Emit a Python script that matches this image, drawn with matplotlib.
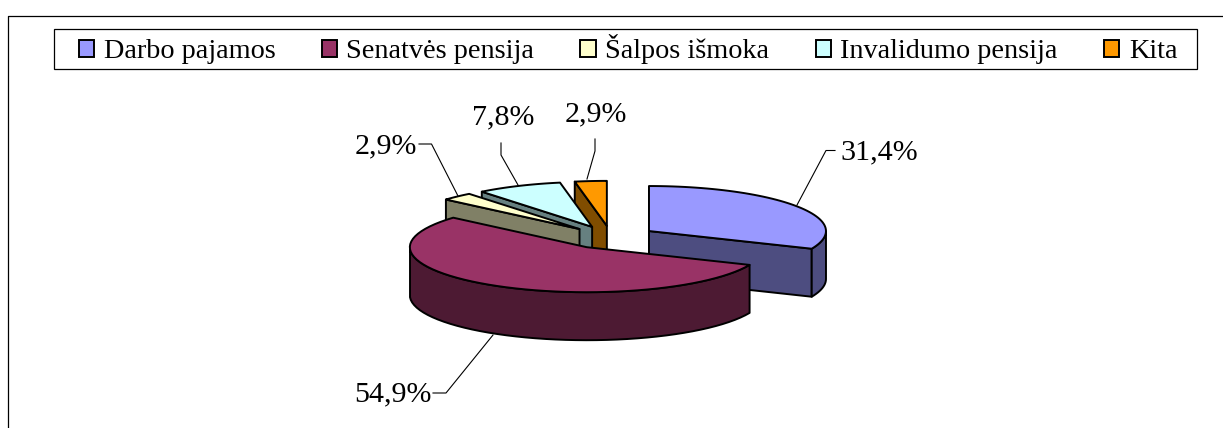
import numpy as np
import matplotlib
matplotlib.use("Agg")
import matplotlib.pyplot as plt
from matplotlib.patches import Patch, Polygon, Rectangle

categories = ["Darbo pajamos", "Senatvės pensija", "Šalpos išmoka", "Invalidumo pensija", "Kita"]
values = [31.4, 54.9, 2.9, 7.8, 2.9]
labels = ["31,4%", "54,9%", "2,9%", "7,8%", "2,9%"]
colors = ["#9999FF", "#993366", "#FFFFCC", "#CCFFFF", "#FF9900"]
shades = ["#4D4D80", "#4D1A33", "#808066", "#668080", "#804D00"]

W, H = 1223, 428
plt.rcParams["font.family"] = ["Liberation Serif", "DejaVu Serif"]
fig = plt.figure(figsize=(W / 100, H / 100), dpi=100)
ax = fig.add_axes([0, 0, 1, 1])
ax.set_xlim(0, W)
ax.set_ylim(H, 0)
ax.axis("off")

# chart frame
ax.plot([8, 8, W], [H, 15.5, 15.5], color="black", lw=0.9, solid_capstyle="butt")

# pie geometry
CX, CY, RX, RY, DEPTH, EXPLODE = 611, 237.4, 177, 45, 48, 45.5
total = sum(values)
edges = np.concatenate([[0], np.cumsum(values)]) / total * 360


def rim(cx, cy, a):
    a = np.radians(a)
    return cx + RX * np.sin(a), cy - RY * np.cos(a)


def centre(a0, a1):
    m = np.radians((a0 + a1) / 2)
    return CX + EXPLODE * np.sin(m), CY - EXPLODE * RY / RX * np.cos(m)


order = [4, 3, 2, 0, 1]
kw = dict(edgecolor="black", lw=1.4, joinstyle="round")
for i in order:
    a0, a1 = edges[i], edges[i + 1]
    cx, cy = centre(a0, a1)
    arc = np.linspace(a0, a1, 60)
    rx, ry = rim(cx, cy, arc)
    # cut face, visible when the slice opens toward the viewer
    for a in ([a1] if i == 0 else [a0] if a0 > 180 else []):
        px, py = rim(cx, cy, a)
        ax.add_patch(Polygon([(cx, cy), (px, py), (px, py + DEPTH), (cx, cy + DEPTH)],
                             facecolor=shades[i], zorder=2 + order.index(i), **kw))
    # outer wall: front half of the rim only
    front = arc[(arc >= 90) & (arc <= 270)]
    if len(front):
        fx, fy = rim(cx, cy, front)
        pts = np.r_[np.c_[fx, fy], np.c_[fx, fy + DEPTH][::-1]]
        ax.add_patch(Polygon(pts, facecolor=shades[i], zorder=2 + order.index(i), **kw))
    ax.add_patch(Polygon(np.r_[[(cx, cy)], np.c_[rx, ry]], facecolor=colors[i],
                         zorder=2 + order.index(i), **kw))

# data labels with leader lines
leaders = [
    [(797, 205), (826, 150.5), (835, 150.5)],
    [(493, 335), (446, 393), (433, 393)],
    [(458, 196), (431.5, 144), (419, 144)],
    [(518, 185), (501, 155), (501, 143)],
    [(587, 179), (595, 151), (595, 139)],
]
label_pos = [(840, 152, "left"), (432, 394, "right"), (417, 146, "right"),
             (503, 117.5, "center"), (596, 114.5, "center")]
for txt, line, (x, y, ha) in zip(labels, leaders, label_pos):
    lx, ly = zip(*line)
    ax.plot(lx, ly, color="black", lw=0.8, zorder=20)
    ax.text(x, y, txt, ha=ha, va="center", fontsize=21.6, color="black", zorder=21)

# legend
ax.add_patch(Rectangle((54, 29), 1143, 40, facecolor="white", edgecolor="black", lw=0.9, zorder=29))
handles = [Patch(facecolor=c, edgecolor="black", lw=1.4) for c in colors]
leg = ax.legend(handles, categories, ncol=5, loc="center",
                bbox_to_anchor=(628 / W, 1 - 49 / H), bbox_transform=fig.transFigure,
                fontsize=20.3, frameon=False,
                handlelength=0.55, handleheight=0.55, handletextpad=0.33,
                columnspacing=1.64, borderpad=0, borderaxespad=0, labelspacing=0)
leg.set_zorder(30)

fig.savefig("out.png", dpi=100)
